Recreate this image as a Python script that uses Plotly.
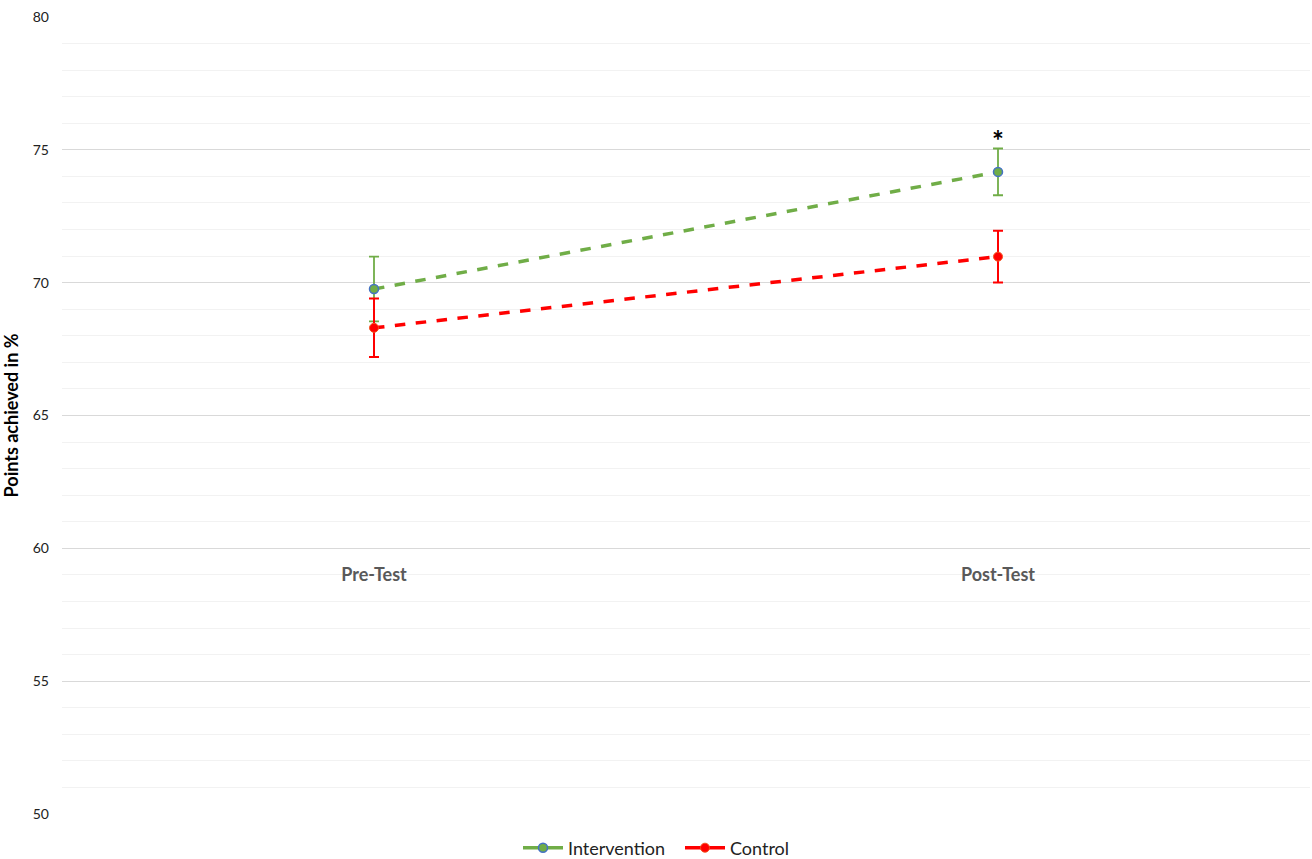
import plotly.graph_objects as go

# Test phases on the category axis
phases = ["Pre-Test", "Post-Test"]

# Mean points achieved (%) and error-bar half-widths per group
intervention_mean = [69.76, 74.17]
intervention_err = [1.22, 0.88]
control_mean = [68.30, 70.98]
control_err = [1.10, 0.97]

# Significance marker above the post-test intervention value
sig_phase = "Post-Test"
sig_y = 75.38

y_ticks = [50, 55, 60, 65, 70, 75, 80]

GREEN = "#70AD47"
RED = "#FF0000"
FONT = "Lato, 'Open Sans', sans-serif"

fig = go.Figure()

fig.add_trace(go.Scatter(
    x=phases, y=intervention_mean, mode="lines+markers", name="Intervention",
    line=dict(color=GREEN, width=3.5, dash="dash"),
    marker=dict(size=9, color=GREEN, line=dict(color="#4472C4", width=1.5)),
    error_y=dict(type="data", array=intervention_err, color=GREEN, thickness=1.8, width=5),
    showlegend=False,
))
fig.add_trace(go.Scatter(
    x=phases, y=control_mean, mode="lines+markers", name="Control",
    line=dict(color=RED, width=3.5, dash="dash"),
    marker=dict(size=9, color=RED, line=dict(color="#F4511E", width=1)),
    error_y=dict(type="data", array=control_err, color=RED, thickness=2, width=5),
    showlegend=False,
))

# Legend entries drawn with solid sample lines
fig.add_trace(go.Scatter(
    x=[None], y=[None], mode="lines+markers", name="Intervention",
    line=dict(color=GREEN, width=3.5),
    marker=dict(size=9, color=GREEN, line=dict(color="#4472C4", width=1.5)),
))
fig.add_trace(go.Scatter(
    x=[None], y=[None], mode="lines+markers", name="Control",
    line=dict(color=RED, width=3.5),
    marker=dict(size=9, color=RED, line=dict(color="#F4511E", width=1)),
))

fig.add_annotation(
    x=sig_phase, y=sig_y, xref="x", yref="y", text="<b>*</b>", showarrow=False,
    font=dict(size=28, color="black", family=FONT),
)

fig.update_layout(
    width=1312, height=859,
    margin=dict(l=62, r=2, t=17, b=45, autoexpand=False),
    paper_bgcolor="white", plot_bgcolor="white",
    font=dict(family=FONT, color="#222222"),
    legend=dict(
        orientation="h", x=(518 - 62) / 1248, xanchor="left",
        yref="container", y=(859 - 848) / 859, yanchor="middle",
        font=dict(size=18, color="#222222"), itemwidth=40,
        entrywidth=107, entrywidthmode="pixels",
    ),
    xaxis=dict(
        type="category", range=[-0.5, 1.5], showgrid=False, zeroline=False,
        showline=False, ticks="", anchor="free", position=1 / 3, automargin=False,
        tickfont=dict(size=18, color="#595959", family=FONT), ticklabelstandoff=14,
        tickprefix="<b>", ticksuffix="</b>",
    ),
    yaxis=dict(
        range=[50, 80], tickvals=y_ticks, showgrid=True, gridcolor="#D9D9D9",
        gridwidth=1, zeroline=False, showline=False, ticks="", automargin=False,
        tickfont=dict(size=14, color="#222222", family=FONT), ticklabelstandoff=12,
        minor=dict(dtick=1, showgrid=True, gridcolor="#F2F2F2", gridwidth=1),
        title=dict(text="<b>Points achieved in %</b>", font=dict(size=18, color="black", family=FONT), standoff=14),
    ),
)

fig.write_html("out.html")
